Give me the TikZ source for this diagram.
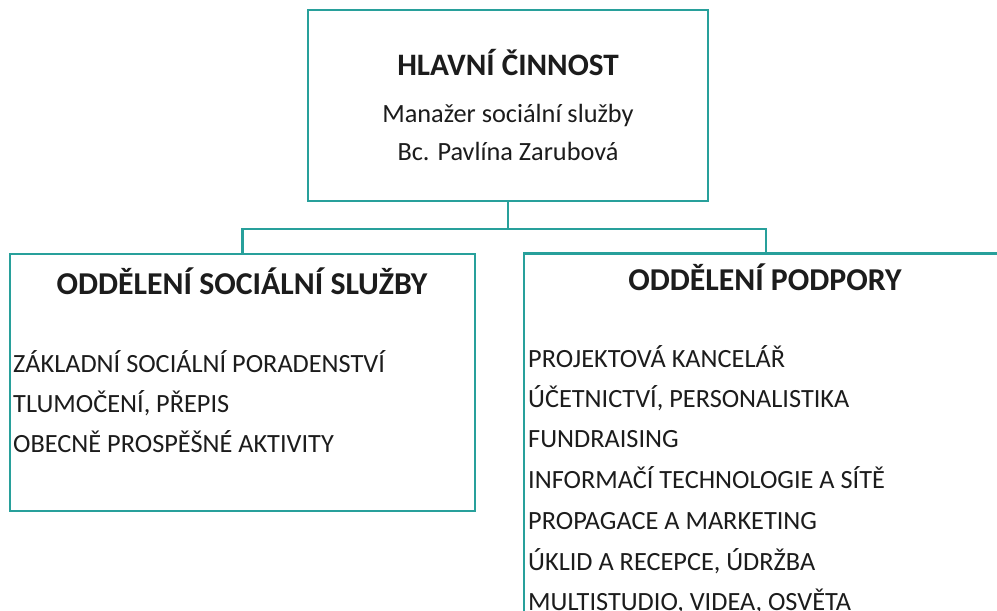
\documentclass[tikz,border=0pt]{standalone}
\usepackage{fontspec}
\setmainfont{Carlito}
\definecolor{teal1}{RGB}{40,160,155}
\definecolor{ink}{RGB}{28,28,28}
\begin{document}
\begin{tikzpicture}[x=1pt,y=-1pt,
  box/.style={draw=teal1,line width=2.8pt,inner sep=0pt},
  conn/.style={draw=teal1,line width=2.8pt},
  ttl/.style={anchor=base,inner sep=0pt,text=ink,font=\bfseries\fontsize{31.2}{34}\selectfont},
  sub/.style={anchor=base,inner sep=0pt,text=ink,font=\fontsize{26.3}{29}\selectfont},
  dtl/.style={anchor=base,inner sep=0pt,text=ink,font=\bfseries\fontsize{31.8}{34}\selectfont},
  itm/.style={anchor=base west,inner sep=0pt,text=ink,font=\fontsize{26.3}{29}\selectfont}]
\useasboundingbox (0,0) rectangle (997,611);
\clip (0,0) rectangle (997,611);
\fill[white] (0,0) rectangle (997,611);
\node[box,minimum width=400pt,minimum height=191pt] (top) at (508,105.5) {};
\node[box,minimum width=465pt,minimum height=257pt] (left) at (242.5,382.5) {};
\node[box,minimum width=484pt,minimum height=450pt,anchor=north] (right) at (766,252) {};
\coordinate (j) at (508,229);
\draw[conn] (top.south) -- (j);
\draw[conn] (left.north) |- (j) -| (right.north);
\node[ttl] (t1) at (508,75) {HLAVNÍ ČINNOST};
\node[sub] (t2) at (508,122) {Manažer sociální služby};
\node[sub] (t3) at (508,160) {Bc. Pavlína Zarubová};
\node[dtl] (l0) at (242,294) {ODDĚLENÍ SOCIÁLNÍ SLUŽBY};
\node[itm] (l1) at (13,372) {ZÁKLADNÍ SOCIÁLNÍ PORADENSTVÍ};
\node[itm] (l2) at (13,412) {TLUMOČENÍ, PŘEPIS};
\node[itm] (l3) at (13,452) {OBECNĚ PROSPĚŠNÉ AKTIVITY};
\node[dtl] (r0) at (765,290) {ODDĚLENÍ PODPORY};
\node[itm] (r1) at (528,367) {PROJEKTOVÁ KANCELÁŘ};
\node[itm] (r2) at (528,407) {ÚČETNICTVÍ, PERSONALISTIKA};
\node[itm] (r3) at (528,447) {FUNDRAISING};
\node[itm] (r4) at (528,488) {INFORMAČÍ TECHNOLOGIE A SÍTĚ};
\node[itm] (r5) at (528,529) {PROPAGACE A MARKETING};
\node[itm] (r6) at (528,570) {ÚKLID A RECEPCE, ÚDRŽBA};
\node[itm] (r7) at (528,610) {MULTISTUDIO, VIDEA, OSVĚTA};
\end{tikzpicture}
\end{document}
